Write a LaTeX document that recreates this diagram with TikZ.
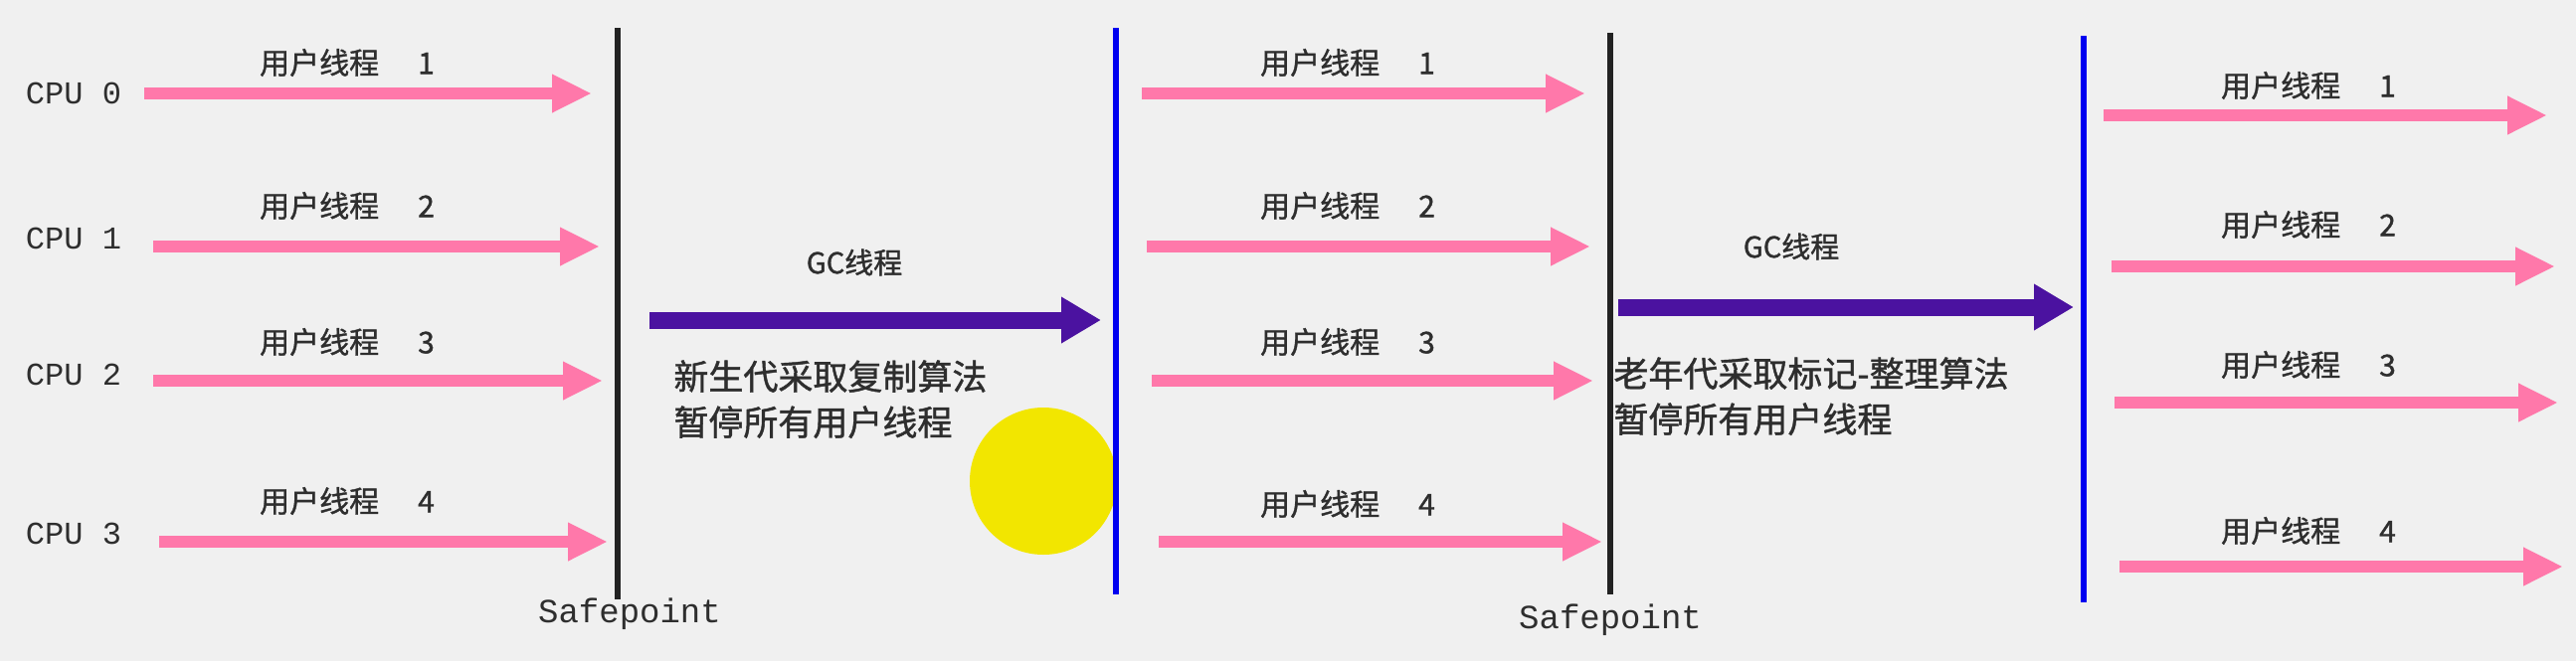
\documentclass[tikz,border=0pt]{standalone}
\usepackage{fontspec}
\newfontfamily\cjk[FakeBold=1.2]{Noto Sans CJK SC}
\newfontfamily\monof{Liberation Mono}
\usetikzlibrary{arrows.meta}
\definecolor{bgc}{HTML}{F0F0F0}
\definecolor{pinkar}{HTML}{FF78AA}
\definecolor{gcpurple}{HTML}{4B12A0}
\definecolor{txtc}{HTML}{2E2E2E}
\definecolor{sepblack}{HTML}{222222}
\definecolor{sepblue}{HTML}{0000F0}
\definecolor{hlc}{HTML}{F2E600}
\begin{document}
\begin{tikzpicture}[x=0.5pt,y=-0.5pt,
  userarrow/.style={draw=pinkar, line width=6pt, -{Triangle[length=20pt,width=18pt]}},
  gcarrow/.style={draw=gcpurple, line width=8.5pt, -{Triangle[length=20pt,width=22pt]}},
  ulabel/.style={font=\cjk\fontsize{15pt}{17pt}\selectfont, text=txtc, inner sep=0pt},
  gclabel/.style={font=\cjk\fontsize{14.5pt}{16pt}\selectfont, text=txtc, inner sep=0pt},
  note/.style={font=\cjk\fontsize{17.5pt}{23pt}\selectfont, text=txtc, inner sep=0pt, align=left, anchor=north west},
  cpulabel/.style={font=\monof\fontsize{16pt}{18pt}\selectfont, text=txtc, inner sep=0pt},
  safelabel/.style={font=\monof\fontsize{17pt}{19pt}\selectfont, text=txtc, inner sep=0pt},
  blackbar/.style={draw=sepblack, line width=3.3pt},
  bluebar/.style={draw=sepblue, line width=3.3pt}]
\fill[bgc] (0,0) rectangle (2590,665);
\useasboundingbox (0,0) rectangle (2590,665);

% CPU labels
\node[cpulabel] (cpu0) at (74,94) {CPU 0};
\node[cpulabel] (cpu1) at (74,240) {CPU 1};
\node[cpulabel] (cpu2) at (74,377) {CPU 2};
\node[cpulabel] (cpu3) at (74,537) {CPU 3};

% segment 1
\coordinate (a1s) at (145,94);  \coordinate (a1e) at (595,94);
\coordinate (a2s) at (154,248); \coordinate (a2e) at (603,248);
\coordinate (a3s) at (154,383); \coordinate (a3e) at (606,383);
\coordinate (a4s) at (160,545); \coordinate (a4e) at (611,545);
\draw[userarrow] (a1s) -- (a1e);
\draw[userarrow] (a2s) -- (a2e);
\draw[userarrow] (a3s) -- (a3e);
\draw[userarrow] (a4s) -- (a4e);
\node[ulabel] (l11) at (349,63) {用户线程\hspace{1.3em}1};
\node[ulabel] (l12) at (349,207) {用户线程\hspace{1.3em}2};
\node[ulabel] (l13) at (349,344) {用户线程\hspace{1.3em}3};
\node[ulabel] (l14) at (349,504) {用户线程\hspace{1.3em}4};

% safepoint 1
\coordinate (s1t) at (621,28); \coordinate (s1b) at (621,603);
\draw[blackbar] (s1t) -- (s1b);
\node[safelabel] (sp1) at (633,618) {Safepoint};

% GC 1
\coordinate (g1s) at (653,322); \coordinate (g1e) at (1107,322);
\draw[gcarrow] (g1s) -- (g1e);
\node[gclabel] (gc1) at (859,264) {GC线程};
\node[note] (n1) at (677,362) {新生代采取复制算法\\暂停所有用户线程};

% highlight circle (cursor)
\fill[hlc] (1049,484) circle (74);

% blue line 1
\coordinate (b1t) at (1122,28); \coordinate (b1b) at (1122,598);
\draw[bluebar] (b1t) -- (b1b);

% segment 2
\coordinate (c1s) at (1148,94);  \coordinate (c1e) at (1594,94);
\coordinate (c2s) at (1153,248); \coordinate (c2e) at (1599,248);
\coordinate (c3s) at (1158,383); \coordinate (c3e) at (1602,383);
\coordinate (c4s) at (1165,545); \coordinate (c4e) at (1611,545);
\draw[userarrow] (c1s) -- (c1e);
\draw[userarrow] (c2s) -- (c2e);
\draw[userarrow] (c3s) -- (c3e);
\draw[userarrow] (c4s) -- (c4e);
\node[ulabel] (l21) at (1355,63) {用户线程\hspace{1.3em}1};
\node[ulabel] (l22) at (1355,207) {用户线程\hspace{1.3em}2};
\node[ulabel] (l23) at (1355,344) {用户线程\hspace{1.3em}3};
\node[ulabel] (l24) at (1355,507) {用户线程\hspace{1.3em}4};

% safepoint 2
\coordinate (s2t) at (1619,33); \coordinate (s2b) at (1619,598);
\draw[blackbar] (s2t) -- (s2b);
\node[safelabel] (sp2) at (1619,624) {Safepoint};

% GC 2
\coordinate (g2s) at (1627,309); \coordinate (g2e) at (2085,309);
\draw[gcarrow] (g2s) -- (g2e);
\node[gclabel] (gc2) at (1801,248) {GC线程};
\node[note] (n2) at (1622,359) {老年代采取标记-整理算法\\暂停所有用户线程};

% blue line 2
\coordinate (b2t) at (2095,36); \coordinate (b2b) at (2095,606);
\draw[bluebar] (b2t) -- (b2b);

% segment 3
\coordinate (d1s) at (2115,116); \coordinate (d1e) at (2561,116);
\coordinate (d2s) at (2123,268); \coordinate (d2e) at (2569,268);
\coordinate (d3s) at (2126,405); \coordinate (d3e) at (2572,405);
\coordinate (d4s) at (2131,570); \coordinate (d4e) at (2577,570);
\draw[userarrow] (d1s) -- (d1e);
\draw[userarrow] (d2s) -- (d2e);
\draw[userarrow] (d3s) -- (d3e);
\draw[userarrow] (d4s) -- (d4e);
\node[ulabel] (l31) at (2321,86) {用户线程\hspace{1.3em}1};
\node[ulabel] (l32) at (2321,226) {用户线程\hspace{1.3em}2};
\node[ulabel] (l33) at (2321,367) {用户线程\hspace{1.3em}3};
\node[ulabel] (l34) at (2321,534) {用户线程\hspace{1.3em}4};
\end{tikzpicture}
\end{document}
